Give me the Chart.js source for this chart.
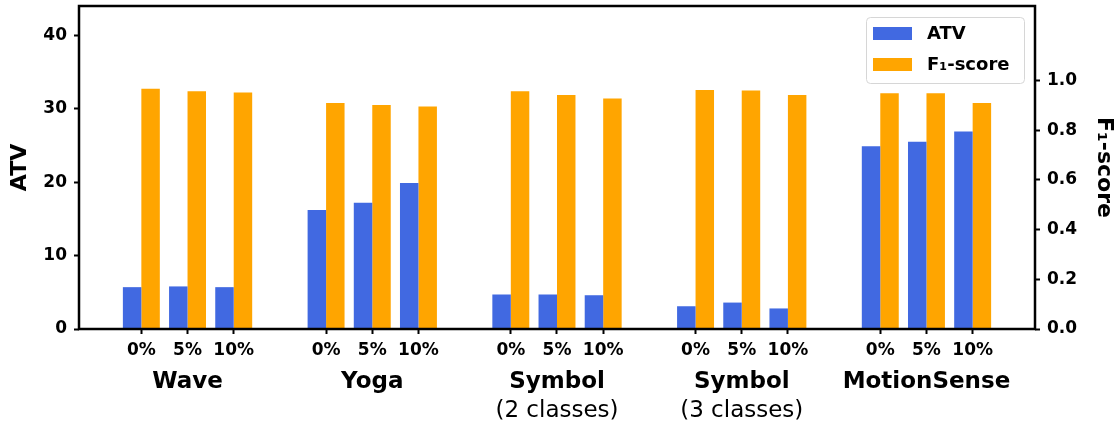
<!DOCTYPE html>
<html>
<head>
<meta charset="utf-8">
<script src="https://cdn.jsdelivr.net/npm/chart.js@4.4.1/dist/chart.umd.min.js"></script>
<style>
  body { margin: 0; background: #fff; }
  #wrap { width: 1120px; height: 425px; position: relative; }
</style>
</head>
<body>
<div id="wrap"><canvas id="atv-chart"></canvas></div>
<script>
// data
var noiseLevels = ['0%', '5%', '10%'];
var groupNames = ['Wave', 'Yoga', 'Symbol', 'Symbol', 'MotionSense'];
var groupNotes = ['', '', '(2 classes)', '(3 classes)', ''];
var atvValues = [5.7, 5.8, 5.7, 16.2, 17.2, 19.9, 4.7, 4.7, 4.6, 3.1, 3.6, 2.8, 24.9, 25.5, 26.9];
var f1Values = [0.967, 0.957, 0.952, 0.910, 0.902, 0.896, 0.957, 0.942, 0.928, 0.962, 0.960, 0.942, 0.949, 0.949, 0.910];
var atvTicks = [0, 10, 20, 30, 40];
var f1Ticks = [0, 0.2, 0.4, 0.6, 0.8, 1.0];

var FONT = 'DejaVu Sans';

// each group takes 3 slots plus one empty slot as a gap
var slots = [];
groupNames.forEach(function (g, gi) {
    noiseLevels.forEach(function (n, ni) { slots.push(gi * 4 + ni); });
});
var groupCenters = groupNames.map(function (g, gi) { return gi * 4 + 1; });

function points(values) {
    return values.map(function (v, i) { return {x: slots[i], y: v}; });
}

function setTicks(list) {
    return function (scale) {
        scale.ticks = list.map(function (v) { return {value: v}; });
    };
}

function noPad(scale) {
    scale.paddingTop = 0;
    scale.paddingBottom = 0;
    scale.paddingLeft = 0;
    scale.paddingRight = 0;
}

var xRange = {min: -1.35, max: 19.35};

// frame around the plot + legend box in the upper right
var framePlugin = {
    id: 'frame',
    afterDatasetsDraw: function (chart) {
        var ctx = chart.ctx;
        var a = chart.chartArea;
        ctx.save();
        ctx.strokeStyle = '#000';
        ctx.lineWidth = 2.5;
        ctx.strokeRect(a.left, a.top, a.right - a.left, a.bottom - a.top);

        // legend
        var w = 158, h = 66;
        var lx = a.right - 11 - w, ly = a.top + 11;
        ctx.beginPath();
        ctx.roundRect(lx + 0.5, ly + 0.5, w, h, 4);
        ctx.fillStyle = 'rgba(255,255,255,0.8)';
        ctx.fill();
        ctx.strokeStyle = '#d6d6d6';
        ctx.lineWidth = 1;
        ctx.stroke();
        ctx.font = 'bold 18px "' + FONT + '"';
        ctx.textBaseline = 'middle';
        ctx.textAlign = 'left';
        chart.data.datasets.forEach(function (ds, i) {
            var rowY = ly + 10 + i * 31;
            ctx.fillStyle = ds.backgroundColor;
            ctx.fillRect(lx + 7, rowY, 39, 13);
            ctx.fillStyle = '#000';
            ctx.fillText(ds.label, lx + 61, rowY + 7);
        });
        ctx.restore();
    }
};

var ctx = document.getElementById('atv-chart').getContext('2d');

var atvChart = new Chart(ctx, {
    type: 'bar',
    data: {
        datasets: [
            {
                label: 'ATV',
                data: points(atvValues),
                backgroundColor: '#4169E1',
                borderWidth: 0,
                xAxisID: 'x',
                yAxisID: 'y'
            },
            {
                label: 'F\u2081-score',
                data: points(f1Values),
                backgroundColor: '#FFA500',
                borderWidth: 0,
                xAxisID: 'x',
                yAxisID: 'y1'
            }
        ]
    },
    options: {
        responsive: true,
        maintainAspectRatio: false,
        animation: false,
        devicePixelRatio: 1,
        categoryPercentage: 0.8,
        barPercentage: 1.0,
        layout: { padding: {top: 6, left: 0, right: 0, bottom: 0} },
        plugins: {
            legend: { display: false },
            tooltip: { enabled: false }
        },
        scales: {
            x: {
                type: 'linear',
                position: 'bottom',
                weight: 0,
                min: xRange.min,
                max: xRange.max,
                offset: false,
                afterBuildTicks: setTicks(slots),
                afterFit: function (s) { noPad(s); s.height = 37; },
                border: { display: false },
                grid: {
                    offset: false,
                    drawOnChartArea: false,
                    drawTicks: true,
                    tickLength: 5,
                    tickWidth: 2,
                    tickColor: '#000'
                },
                ticks: {
                    autoSkip: false,
                    maxRotation: 0,
                    padding: 6,
                    color: '#000',
                    font: {family: FONT, size: 17, weight: 'bold'},
                    callback: function (v, i) { return noiseLevels[i % 3]; }
                }
            },
            x2: {
                type: 'linear',
                position: 'bottom',
                weight: 1,
                min: xRange.min,
                max: xRange.max,
                offset: false,
                afterBuildTicks: setTicks(groupCenters),
                afterFit: function (s) { noPad(s); s.height = 30; },
                border: { display: false },
                grid: { display: false, drawTicks: false, offset: false },
                ticks: {
                    autoSkip: false,
                    maxRotation: 0,
                    padding: 2,
                    color: '#000',
                    font: {family: FONT, size: 23, weight: 'bold'},
                    callback: function (v, i) { return groupNames[i]; }
                }
            },
            x3: {
                type: 'linear',
                position: 'bottom',
                weight: 2,
                min: xRange.min,
                max: xRange.max,
                offset: false,
                afterBuildTicks: setTicks(groupCenters),
                afterFit: function (s) { noPad(s); s.height = 29; },
                border: { display: false },
                grid: { display: false, drawTicks: false, offset: false },
                ticks: {
                    autoSkip: false,
                    maxRotation: 0,
                    padding: 1,
                    color: '#000',
                    font: {family: FONT, size: 23, weight: 'normal'},
                    callback: function (v, i) { return groupNotes[i]; }
                }
            },
            y: {
                type: 'linear',
                position: 'left',
                min: 0,
                max: 44,
                afterBuildTicks: setTicks(atvTicks),
                afterFit: function (s) { noPad(s); s.width = 79; },
                border: { display: false },
                grid: {
                    drawOnChartArea: false,
                    drawTicks: true,
                    tickLength: 5,
                    tickWidth: 2,
                    tickColor: '#000'
                },
                ticks: {
                    padding: 7,
                    color: '#000',
                    font: {family: FONT, size: 17, weight: 'bold'},
                    callback: function (v) { return String(v); }
                },
                title: {
                    display: true,
                    text: 'ATV',
                    color: '#000',
                    padding: {top: 7, bottom: 0},
                    font: {family: FONT, size: 22, weight: 'bold'}
                }
            },
            y1: {
                type: 'linear',
                position: 'right',
                min: 0,
                max: 1.3,
                afterBuildTicks: setTicks(f1Ticks),
                afterFit: function (s) { noPad(s); s.width = 85; },
                border: { display: false },
                grid: {
                    drawOnChartArea: false,
                    drawTicks: true,
                    tickLength: 5,
                    tickWidth: 2,
                    tickColor: '#000'
                },
                ticks: {
                    padding: 7,
                    color: '#000',
                    font: {family: FONT, size: 17, weight: 'bold'},
                    callback: function (v) { return v.toFixed(1); }
                },
                title: {
                    display: true,
                    text: 'F\u2081-score',
                    color: '#000',
                    padding: {top: 3, bottom: 0},
                    font: {family: FONT, size: 22, weight: 'bold'}
                }
            }
        }
    },
    plugins: [framePlugin]
});
</script>
</body>
</html>
